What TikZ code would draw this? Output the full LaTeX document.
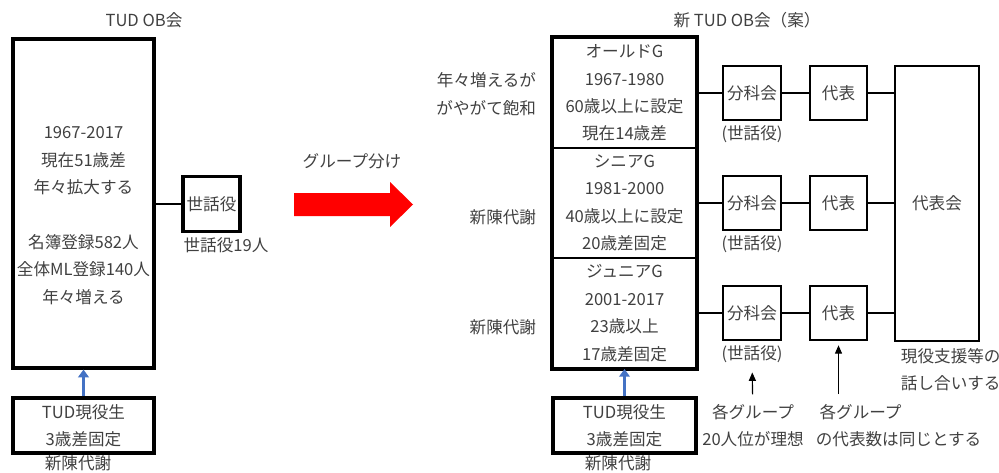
\documentclass[tikz,border=0pt]{standalone}
\usepackage{fontspec}
\setmainfont{Noto Sans CJK JP}
\usetikzlibrary{arrows.meta, calc}
\definecolor{txtgray}{HTML}{404040}
\definecolor{upblue}{HTML}{4472C4}
\newcommand{\pxu}{0.025cm}
\tikzset{
	every node/.style={text=txtgray, font=\fontsize{11.8}{19.5}\selectfont},
	heavybox/.style={draw=black, line width=2.2pt, inner sep=1pt, align=center},
	lightbox/.style={draw=black, line width=1.5pt, inner sep=1pt, align=center},
	groupbox/.style={draw=black, line width=1.4pt, inner sep=1pt, align=center, minimum width=143*\pxu, minimum height=110*\pxu},
	link/.style={draw=black, line width=1.5pt},
	uparrow/.style={draw=upblue, line width=2.2pt, -{Triangle[width=7.5pt,length=5.5pt]}},
	notearrow/.style={draw=black, line width=0.8pt, -{Triangle[width=5pt,length=6pt]}},
	note/.style={align=center, inner sep=0pt, outer sep=7pt}
}

\begin{document}
\begin{tikzpicture}[x=\pxu, y=-\pxu]
	\useasboundingbox (0,0) rectangle (999,473);
	% current association
	\node (ttlold) at (144,20) {TUD OB会};
	\node[heavybox, minimum width=141*\pxu, minimum height=329*\pxu] (ob) at (83.5,203.5) {};
	\node[align=center] (obtext) at (83.5,215.5) {1967-2017\\現在51歳差\\年々拡大する\\[19.5pt]名簿登録582人\\全体ML登録140人\\年々増える};
	\node[heavybox, minimum width=57*\pxu, minimum height=55*\pxu] (sewa) at (211.5,204) {世話役};
	\node (sewanum) at (226,245) {世話役19人};
	\node[heavybox, minimum width=141*\pxu, minimum height=55*\pxu] (gen) at (83.5,425.5) {TUD現役生\\3歳差固定};
	\node (shinold) at (78,463.5) {新陳代謝};
	\draw[link] (ob.east |- sewa) -- (sewa);
	\draw[uparrow] (gen) -- (ob);

	% grouping
	\node (split) at (352,161) {グループ分け};
	\fill[red] (294,193) -- (390,193) -- (390,182) -- (413,204.5) -- (390,227) -- (390,216) -- (294,216) -- cycle;

	% new association
	\node (ttlnew) at (747,20) {新 TUD OB会（案）};
	\node[groupbox] (old) at (624.5,93) {オールドG\\1967-1980\\60歳以上に設定\\現在14歳差};
	\node[groupbox] (senior) at (624.5,203) {シニアG\\1981-2000\\40歳以上に設定\\20歳差固定};
	\node[groupbox] (junior) at (624.5,313) {ジュニアG\\2001-2017\\23歳以上\\17歳差固定};
	\draw[line width=2.2pt] (old.north west) rectangle (junior.south east);
	\node[anchor=east, align=right] (satur) at (541,94) {年々増えるが\\がやがて飽和};
	\node[anchor=east] (shinsen) at (541,217) {新陳代謝};
	\node[anchor=east] (shinjun) at (541,327) {新陳代謝};
	\node[heavybox, minimum width=143*\pxu, minimum height=55*\pxu] (gennew) at (624.5,425.5) {TUD現役生\\3歳差固定};
	\node (shinnew) at (618,463.5) {新陳代謝};
	\draw[uparrow] (gennew) -- (junior);

	% sections, representatives
	\foreach \g/\y in {old/93, senior/203, junior/313} {
		\node[lightbox, minimum width=58*\pxu, minimum height=54*\pxu] (bunka\g) at (752,\y) {分科会};
		\node[note] (sewa\g) at (752,\y+41) {(世話役)};
		\node[lightbox, minimum width=57*\pxu, minimum height=54*\pxu] (dai\g) at (838.5,\y) {代表};
		\draw[link] (\g) -- (bunka\g);
		\draw[link] (bunka\g) -- (dai\g);
	};
	\node[lightbox, minimum width=84*\pxu, minimum height=275*\pxu] (daikai) at (937,203.5) {代表会};
	\foreach \g in {old, senior, junior} {
		\draw[link] (dai\g) -- (daikai.west |- dai\g);
	};
	\node[anchor=west, align=left] (talk) at (896,369.5) {現役支援等の\\話し合いする};

	% notes
	\node[note] (ideal) at (753,425.5) {各グループ\\20人位が理想};
	\node[note, align=left, anchor=west] (same) at (806,425.5) {\ 各グループ\\の代表数は同じとする};
	\draw[notearrow] (ideal) -- (sewajunior);
	\draw[notearrow, shorten >=3pt] (same.north -| daijunior.south) -- (daijunior.south);
\end{tikzpicture}
\end{document}
